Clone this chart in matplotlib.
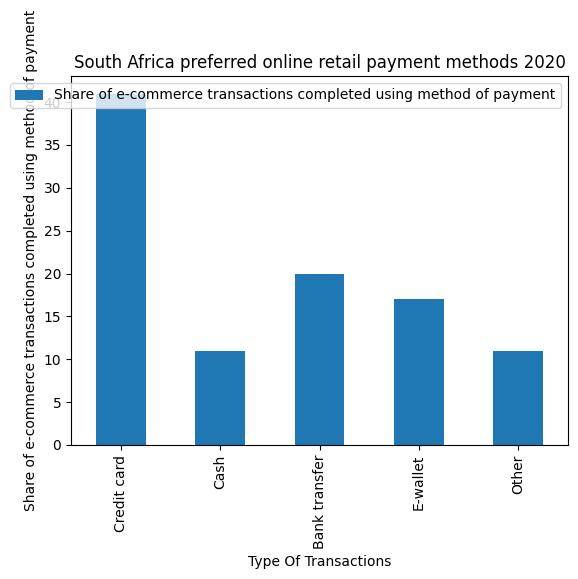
import matplotlib
matplotlib.use("Agg")
import matplotlib.pyplot as plt
import pandas as pd

categories = ["Credit card", "Cash", "Bank transfer", "E-wallet", "Other"]
values = [41, 11, 20, 17, 11]
series_name = "Share of e-commerce transactions completed using method of payment"

df = pd.DataFrame({series_name: values}, index=categories)

fig = plt.figure(figsize=(5.78, 5.79), dpi=100)
ax = fig.add_axes([71/578, 1-445/579, (568-71)/578, (445-76)/579])
df.plot(kind="bar", ax=ax, color="#1f77b4")
ax.set_title("South Africa preferred online retail payment methods 2020")
ax.set_xlabel("Type Of Transactions")
ax.set_ylabel(series_name)
ax.legend(loc="upper right")
fig.savefig("out.png", dpi=100)
